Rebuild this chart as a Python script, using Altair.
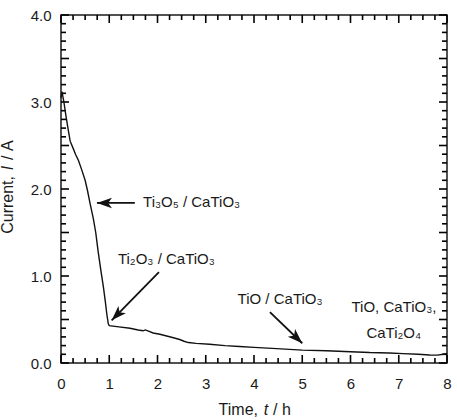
import math
import altair as alt
import pandas as pd

# Electrolysis current trace (time in hours, current in amperes)
time_h = [0.0, 0.02, 0.06, 0.10, 0.15, 0.19, 0.25, 0.30, 0.36, 0.43, 0.50, 0.55,
          0.60, 0.67, 0.72, 0.77, 0.83, 0.88, 0.92, 0.95, 0.98, 1.00, 1.20, 1.43,
          1.60, 1.70, 1.75, 1.91, 2.05, 2.19, 2.33, 2.46, 2.55, 2.64, 2.80, 3.08,
          3.40, 3.70, 4.00, 4.47, 5.00, 5.50, 6.00, 6.40, 6.80, 7.09, 7.40, 7.64,
          7.80, 7.92, 8.00]
current_a = [3.05, 3.12, 3.00, 2.85, 2.68, 2.55, 2.47, 2.40, 2.33, 2.22, 2.10, 1.98,
             1.84, 1.66, 1.50, 1.28, 1.05, 0.87, 0.70, 0.56, 0.45, 0.43, 0.415, 0.40,
             0.38, 0.37, 0.38, 0.345, 0.33, 0.31, 0.29, 0.27, 0.25, 0.235, 0.225, 0.215,
             0.20, 0.19, 0.18, 0.165, 0.148, 0.14, 0.13, 0.12, 0.115, 0.108, 0.10, 0.092,
             0.09, 0.10, 0.11]

# Axis tick positions
x_tick_values = [0, 0.25, 0.5, 0.75, 1, 1.25, 1.5, 1.75, 2, 2.25, 2.5, 2.75, 3, 3.25,
                 3.5, 3.75, 4, 4.25, 4.5, 4.75, 5, 5.25, 5.5, 5.75, 6, 6.25, 6.5, 6.75,
                 7, 7.25, 7.5, 7.75, 8]
y_tick_values = [0.0, 0.1, 0.2, 0.3, 0.4, 0.5, 0.6, 0.7, 0.8, 0.9, 1.0, 1.1, 1.2, 1.3,
                 1.4, 1.5, 1.6, 1.7, 1.8, 1.9, 2.0, 2.1, 2.2, 2.3, 2.4, 2.5, 2.6, 2.7,
                 2.8, 2.9, 3.0, 3.1, 3.2, 3.3, 3.4, 3.5, 3.6, 3.7, 3.8, 3.9, 4.0]
x_label_values = [0, 1, 2, 3, 4, 5, 6, 7, 8]
y_label_values = [0.0, 1.0, 2.0, 3.0, 4.0]

# Phase annotations (anchored in data units)
phase_text = ["Ti₃O₅ / CaTiO₃", "Ti₂O₃ / CaTiO₃", "TiO / CaTiO₃", "TiO, CaTiO₃,", "CaTi₂O₄"]
phase_t = [1.70, 1.18, 3.66, 6.02, 6.33]
phase_i = [1.85, 1.20, 0.74, 0.64, 0.35]

arrow_tail_t = [1.53, 2.03, 4.33]
arrow_tail_i = [1.84, 1.045, 0.584]
arrow_tip_t = [0.745, 1.05, 5.0]
arrow_tip_i = [1.84, 0.49, 0.227]

W, H = 386, 348
FONT = "Liberation Sans"
INK = "#1a1a1a"
NB = "\u00a0"

X_DOMAIN = [0, 8]
Y_DOMAIN = [0, 4]
MAJOR_LEN, MINOR_LEN = 8, 5  # tick lengths in pixels

px_per_t = W / (X_DOMAIN[1] - X_DOMAIN[0])
px_per_i = H / (Y_DOMAIN[1] - Y_DOMAIN[0])

trace = pd.DataFrame({"t": time_h, "i": current_a})
labels = pd.DataFrame({"text": phase_text, "t": phase_t, "i": phase_i})

# arrowhead direction in screen space (clockwise degrees)
angles = []
for t0, i0, t1, i1 in zip(arrow_tail_t, arrow_tail_i, arrow_tip_t, arrow_tip_i):
    dx = (t1 - t0) * px_per_t
    dy = -(i1 - i0) * px_per_i
    angles.append(math.degrees(math.atan2(dy, dx)) % 360)
arrows = pd.DataFrame({"t0": arrow_tail_t, "i0": arrow_tail_i,
                       "t1": arrow_tip_t, "i1": arrow_tip_i, "angle": angles})

# inward tick marks on all four edges, as short segments
tick_rows = []
for v in x_tick_values:
    ln = (MAJOR_LEN if abs(v - round(v)) < 1e-6 else MINOR_LEN) / px_per_i
    tick_rows.append({"x0": v, "x1": v, "y0": Y_DOMAIN[0], "y1": Y_DOMAIN[0] + ln})
    tick_rows.append({"x0": v, "x1": v, "y0": Y_DOMAIN[1], "y1": Y_DOMAIN[1] - ln})
for v in y_tick_values:
    ln = (MAJOR_LEN if abs(v * 2 - round(v * 2)) < 1e-6 else MINOR_LEN) / px_per_t
    tick_rows.append({"x0": X_DOMAIN[0], "x1": X_DOMAIN[0] + ln, "y0": v, "y1": v})
    tick_rows.append({"x0": X_DOMAIN[1], "x1": X_DOMAIN[1] - ln, "y0": v, "y1": v})
ticks_df = pd.DataFrame(tick_rows)

xs = alt.Scale(domain=X_DOMAIN, nice=False, zero=False)
ys = alt.Scale(domain=Y_DOMAIN, nice=False, zero=False)

tick_marks = alt.Chart(ticks_df).mark_rule(color="#000000", strokeWidth=1.6).encode(
    x=alt.X("x0:Q", scale=xs, axis=alt.Axis(
        orient="bottom", values=x_label_values, format="d", ticks=False, domain=False,
        grid=False, title="", labelPadding=13, labelFlush=False,
        labelFontSize=15, labelFont=FONT, labelColor=INK)),
    y=alt.Y("y0:Q", scale=ys, axis=alt.Axis(
        orient="left", values=y_label_values, format=".1f", ticks=False, domain=False,
        grid=False, title="", labelPadding=10, labelFlush=False,
        labelFontSize=15, labelFont=FONT, labelColor=INK)),
    x2="x1:Q", y2="y1:Q",
)

# the current trace
line = alt.Chart(trace).mark_line(color="#111111", strokeWidth=1.4).encode(
    x=alt.X("t:Q", scale=xs), y=alt.Y("i:Q", scale=ys),
)

shafts = alt.Chart(arrows).mark_rule(color="#111111", strokeWidth=1.8).encode(
    x=alt.X("t0:Q", scale=xs), y=alt.Y("i0:Q", scale=ys),
    x2="t1:Q", y2="i1:Q",
)

heads = alt.Chart(arrows).mark_point(
    shape="M0,0 L-2,-0.7 L-1.5,0 L-2,0.7 Z", filled=True, size=225,
    color="#111111", opacity=1, strokeWidth=0,
).encode(
    x=alt.X("t1:Q", scale=xs), y=alt.Y("i1:Q", scale=ys),
    angle=alt.Angle("angle:Q", scale=None),
)

phase_labels = alt.Chart(labels).mark_text(
    align="left", baseline="middle", font=FONT, fontSize=15, color=INK,
).encode(
    x=alt.X("t:Q", scale=xs), y=alt.Y("i:Q", scale=ys), text="text:N",
)

one = pd.DataFrame({"k": [0]})


def title_piece(text, x, y, align, italic=False, angle=0):
    kw = dict(text=text, align=align, baseline="alphabetic", font=FONT,
              fontSize=16, color=INK)
    if italic:
        kw["fontStyle"] = "italic"
    if angle:
        kw["angle"] = angle
    return alt.Chart(one).mark_text(**kw).encode(x=alt.value(x), y=alt.value(y))


# x-axis title: "Time, t / h" with italic t
x_title = [
    title_piece("Time,", 197, 400, "right"),
    title_piece("t", 205, 400, "center", italic=True),
    title_piece("/" + NB + "h", 212, 400, "left"),
]
# y-axis title: "Current, I / A" with italic I, rotated (reads bottom to top)
y_title = [
    title_piece("Current,", -48, 161, "right", angle=270),
    title_piece("I", -48, 153, "center", italic=True, angle=270),
    title_piece("/" + NB + "A", -48, 145, "left", angle=270),
]

chart = alt.layer(
    tick_marks, line, shafts, heads, phase_labels, *x_title, *y_title
).properties(
    width=W, height=H,
    autosize=alt.AutoSizeParams(type="none"),
    padding={"left": 61, "top": 15, "right": 10, "bottom": 57},
    background="white",
).configure_view(stroke=INK, strokeWidth=1.5)

chart.save("out.html", embed_options={"renderer": "svg", "actions": False})
